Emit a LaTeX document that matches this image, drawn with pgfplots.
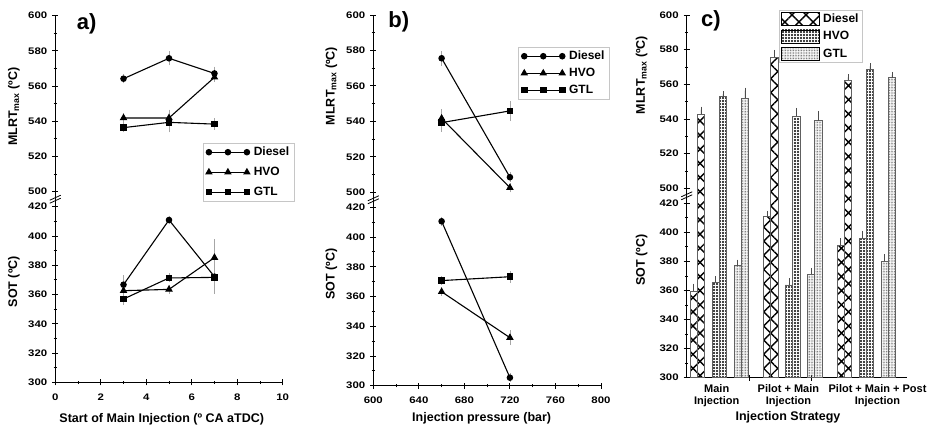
\documentclass[border=0pt]{standalone}
\usepackage{fontspec}
\setmainfont{Liberation Sans}
\newfontfamily\tickfont{Liberation Sans}[FakeStretch=1.2]
\usepackage{pgfplots}
\pgfplotsset{compat=1.18}
\usetikzlibrary{patterns.meta}

\pgfplotsset{
  panel/.style={
    scale only axis,
    tick style={line width=0.9pt, black},
    tick align=outside,
    major tick length=6pt,
    minor tick length=3.5pt,
    tick label style={font=\tickfont\bfseries\fontsize{9.5}{10}\selectfont},
    yticklabel style={xshift=-1.5pt},
    /pgf/number format/assume math mode=true,
    axis y line=left,
  },
  nohead/.style={axis line style={-, line width=1.1pt},
    every outer x axis line/.append style={-}, every outer y axis line/.append style={-},
    every inner x axis line/.append style={-}, every inner y axis line/.append style={-}},
  toppart/.style={panel, axis x line=none, ymax=600, nohead,
    ytick={500,520,...,600}, minor ytick={510,530,...,590}},
  botpart/.style={panel, axis x line=bottom, ymin=300, ymax=420, nohead,
    ytick={300,320,...,420}, minor ytick={310,330,...,410}},
  lineleg/.style={
    legend image code/.code={\draw[##1] plot coordinates {(0pt,0pt) (19pt,0pt) (38pt,0pt)};},
    legend cell align=left,
    legend style={draw=gray!45, line width=0.8pt,
      font=\bfseries\fontsize{12}{13}\selectfont, column sep=2pt,
      inner xsep=3pt, inner ysep=2pt, cells={anchor=west}}},
  eb/.style={error bars/.cd, y dir=both, y explicit,
    error bar style={gray!70, line width=0.6pt},
    error mark options={gray!70, line width=0.6pt, mark size=3pt}},
  dsl/.style={black, line width=1.1pt, mark=*, mark size=2.7pt, eb},
  hvo/.style={black, line width=1.1pt, mark=triangle*, mark size=3.3pt, eb},
  gtl/.style={black, line width=1.1pt, mark=square*, mark size=2.8pt, eb},
  cbar/.style={ybar, bar width=7.2pt, bar shift=0pt, draw=gray!75!black, line width=0.7pt,
    legend image code/.code={\draw[##1, draw=black, line width=0.8pt] (0pt,-6.5pt) rectangle (38pt,6.5pt);}},
  ceb/.style={error bars/.cd, y dir=plus, y explicit,
    error bar style={gray!60!black, line width=0.6pt},
    error mark options={gray!60!black, line width=0.6pt, mark size=3pt}},
  bd/.style={cbar, pattern={Hatch[angle=45,distance=10pt,line width=1.4pt]}, pattern color=black},
  bh/.style={cbar, pattern={Dots[distance=3pt,radius=1.05pt]}, pattern color=black},
  bg/.style={cbar, pattern={Dots[distance=1.6pt,radius=0.5pt]}, pattern color=gray!80!black},
}

\begin{document}
\begin{tikzpicture}
\useasboundingbox (0pt,0pt) rectangle (934pt,425pt);

% ---------------- a) start of main injection
\begin{axis}[botpart, at={(55.3pt,42.7pt)}, anchor=south west, width=227.4pt, height=175.6pt,
  xmin=0, xmax=10, xtick={0,2,...,10}, minor xtick={1,3,...,9},
  xticklabel style={yshift=-5pt}]
\addplot[dsl] coordinates {(3,366.7) +- (0,4.4) (5,410.9) +- (0,1) (7,372.2) +- (0,1)};
\addplot[hvo] coordinates {(3,362.6) +- (0,1.5) (5,363.5) +- (0,1) (7,385.2) +- (0,10.5)};
\addplot[gtl] coordinates {(3,356.9) +- (0,2) (5,371.3) +- (0,1) (7,371.7) +- (0,9)};
\end{axis}
\begin{axis}[toppart, lineleg, at={(55.3pt,218.3pt)}, anchor=south west, width=227.4pt, height=191pt,
  xmin=0, xmax=10, ymin=491.48,
  legend style={at={(axis description cs:0.648,0.335)}, anchor=north west, row sep=6pt}]
\addplot[dsl] coordinates {(3,564.2) +- (0,1) (5,575.8) +- (0,2.3) (7,567.2) +- (0,2.2)};
\addplot[hvo] coordinates {(3,541.9) +- (0,1) (5,541.9) +- (0,3) (7,565.0) +- (0,1)};
\addplot[gtl] coordinates {(3,536.4) +- (0,1) (5,539.4) +- (0,4) (7,538.4) +- (0,1.5)};
\legend{Diesel,HVO,GTL}
\end{axis}

% ---------------- b) injection pressure
\begin{axis}[botpart, at={(373.3pt,39.3pt)}, anchor=south west, width=227.7pt, height=178.4pt,
  xmin=600, xmax=800, xtick={600,640,...,800}, minor xtick={620,660,...,780},
  xticklabel style={yshift=-4.5pt}]
\addplot[dsl] coordinates {(660,410.6) +- (0,1) (720,305.4) +- (0,1)};
\addplot[hvo] coordinates {(660,363.2) +- (0,1) (720,332.3) +- (0,3)};
\addplot[gtl] coordinates {(660,370.7) +- (0,1) (720,373.3) +- (0,2)};
\end{axis}
\begin{axis}[toppart, lineleg, at={(373.3pt,217.7pt)}, anchor=south west, width=227.7pt, height=192.3pt,
  xmin=600, xmax=800, ymin=491.54,
  legend style={at={(axis description cs:0.6355,0.835)}, anchor=north west, row sep=3pt}]
\addplot[dsl] coordinates {(660,575.6) +- (0,2.5) (720,508.5) +- (0,1)};
\addplot[hvo] coordinates {(660,541.7) +- (0,3.5) (720,502.6) +- (0,1)};
\addplot[gtl] coordinates {(660,539.3) +- (0,3.5) (720,545.9) +- (0,4)};
\legend{Diesel,HVO,GTL}
\end{axis}

% ---------------- c) injection strategy (SOT bars)
\begin{axis}[botpart, at={(686.7pt,47.3pt)}, anchor=south west, width=220pt, height=174.4pt,
  xmin=0, xmax=220, xtick={62.3,125}, xticklabels={}]
\addplot[bd, ceb] coordinates {(6.9,359.7) +- (0,3) (80.4,410.8) +- (0,2) (153.9,391.3) +- (0,2.5)};
\addplot[bh, ceb] coordinates {(28.9,365.6) +- (0,2) (102.4,363.8) +- (0,2.5) (175.9,395.9) +- (0,3)};
\addplot[bg, ceb] coordinates {(50.9,377.1) +- (0,2) (124.4,371.4) +- (0,2) (197.9,380.0) +- (0,3)};
\end{axis}
% MLRTmax bars run through the break down to the base line
\begin{axis}[toppart, at={(686.7pt,47.3pt)}, anchor=south west, width=220pt, height=362.7pt,
  xmin=0, xmax=220, ymin=390.71, legend cell align=left,
  legend style={at={(axis description cs:0.4195,1.0139)}, anchor=north west,
    draw=gray!45, line width=0.8pt, font=\bfseries\fontsize{12}{13}\selectfont,
    column sep=1pt, inner xsep=2pt, inner ysep=1.5pt, row sep=3.5pt, cells={anchor=west}}]
\addplot[bd, ceb] coordinates {(14.1,542.9) +- (0,2.5) (87.6,575.6) +- (0,2.5) (161.1,562.5) +- (0,1.5)};
\addplot[bh, ceb] coordinates {(36.1,552.9) +- (0,1.5) (109.6,541.7) +- (0,3) (183.1,568.8) +- (0,1.5)};
\addplot[bg, ceb] coordinates {(58.1,551.9) +- (0,4.5) (131.6,539.0) +- (0,4) (205.1,564.0) +- (0,1.5)};
\legend{Diesel,HVO,GTL}
\end{axis}

\begin{scope}[x=1pt,y=1pt]
% axis breaks
\foreach \bx/\by in {55.3/225.8, 373.3/225.2, 686.7/229.2}{
  \draw[line width=0.8pt] (\bx-5.5,\by-4) -- (\bx+5.5,\by+1);
  \draw[line width=0.8pt] (\bx-5.5,\by-1) -- (\bx+5.5,\by+4);
}

% panel letters
\node[font=\bfseries\fontsize{22}{24}\selectfont] at (86.7,401) {a)};
\node[font=\bfseries\fontsize{22}{24}\selectfont] at (398.7,403.5) {b)};
\node[font=\bfseries\fontsize{22}{24}\selectfont] at (710.8,404) {c)};

% axis titles
\tikzset{lab/.style={font=\bfseries\fontsize{12.5}{14}\selectfont}}
\node[lab, rotate=90] at (14,318.3) {MLRT\textsubscript{max} (ºC)};
\node[lab, rotate=90] at (14,143.3) {SOT (ºC)};
\node[lab, rotate=90] at (331.3,339) {MLRT\textsubscript{max} (ºC)};
\node[lab, rotate=90] at (331.3,151) {SOT (ºC)};
\node[lab, rotate=90] at (641.7,350) {MLRT\textsubscript{max} (ºC)};
\node[lab, rotate=90] at (641.7,165) {SOT (ºC)};
\node[lab] at (161.7,5.5) {Start of Main Injection (º CA aTDC)};
\node[lab] at (481.7,6.7) {Injection pressure (bar)};
\node[lab] at (788,7.3) {Injection Strategy};

% category names of c)
\tikzset{cat/.style={font=\bfseries\fontsize{11}{12.3}\selectfont, align=center}}
\node[cat] at (716.7,29.5) {Main\\Injection};
\node[cat] at (788.4,29.5) {Pilot + Main\\Injection};
\node[cat] at (877.5,29.5) {Pilot + Main + Post\\Injection};
\end{scope}
\end{tikzpicture}
\end{document}
